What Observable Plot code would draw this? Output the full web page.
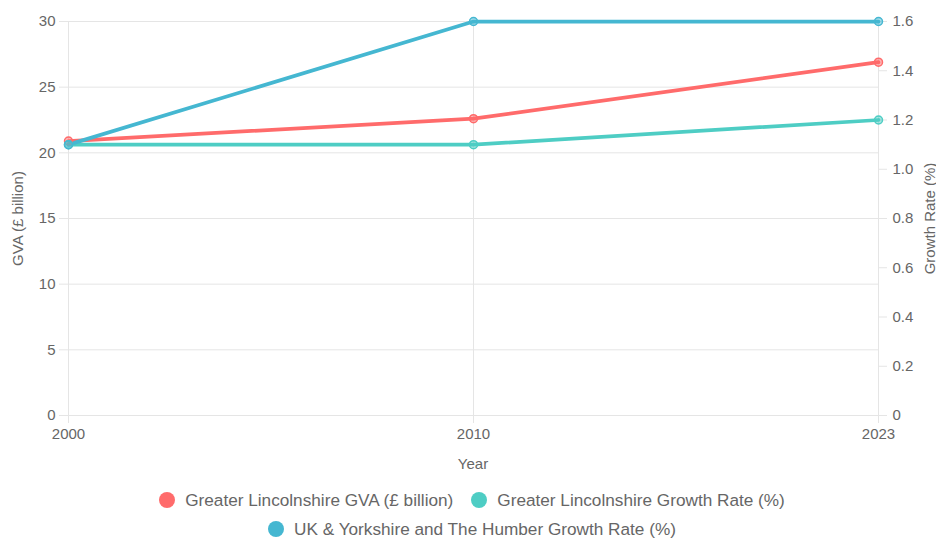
<!DOCTYPE html>
<html><head><meta charset="utf-8">
<script src="https://cdn.jsdelivr.net/npm/d3@7"></script>
<script src="https://cdn.jsdelivr.net/npm/@observablehq/plot@0.6"></script>
<style>
body{margin:0;background:#fff;font-family:"Liberation Sans",Arial,sans-serif;}
#chart svg{display:block;}
#legend{width:640px;margin:0 auto;padding-top:12px;padding-left:8px;display:flex;flex-wrap:wrap;justify-content:center;row-gap:9px;column-gap:18px;font-size:17.2px;color:#666;}
.item{display:flex;align-items:center;height:20px;white-space:nowrap;}
.sw{width:16px;height:16px;border-radius:50%;margin-right:10px;}
</style></head><body>
<div id="chart"></div>
<div id="legend"></div>
<script>
const years = ["2000", "2010", "2023"];
const lincGVA = [20.9, 22.6, 26.9];
const lincGrowth = [1.1, 1.1, 1.2];
const ukGrowth = [1.1, 1.6, 1.6];
const seriesNames = ["Greater Lincolnshire GVA (£ billion)", "Greater Lincolnshire Growth Rate (%)", "UK & Yorkshire and The Humber Growth Rate (%)"];
const seriesColors = ["#FF6B6B", "#4ECDC4", "#45B7D1"];
const leftTicks = [0, 5, 10, 15, 20, 25, 30];
const rightTicks = [0, 0.2, 0.4, 0.6, 0.8, 1.0, 1.2, 1.4, 1.6];
const leftMax = 30, rightMax = 1.6;
const k = leftMax / rightMax;

const data = [];
years.forEach((y, i) => {
  data.push({year: y, v: lincGVA[i], series: seriesNames[0]});
  data.push({year: y, v: lincGrowth[i] * k, series: seriesNames[1]});
  data.push({year: y, v: ukGrowth[i] * k, series: seriesNames[2]});
});

const chart = Plot.plot({
  width: 936, height: 478,
  marginLeft: 67, marginRight: 58, marginTop: 21, marginBottom: 63,
  style: {fontSize: "15px", fontFamily: "'Liberation Sans', Arial, sans-serif", color: "#666", background: "#fff"},
  x: {type: "point", domain: years, padding: 0},
  y: {domain: [0, leftMax]},
  color: {domain: seriesNames, range: seriesColors},
  marks: [
    Plot.gridY(leftTicks, {stroke: "#e5e5e5", strokeOpacity: 1}),
    Plot.gridX(years, {stroke: "#e5e5e5", strokeOpacity: 1}),
    Plot.axisX(years, {tickSize: 8, tickPadding: 5, stroke: "#e5e5e5", fill: "#666", label: "Year", labelAnchor: "center", labelOffset: 53, labelArrow: "none"}),
    Plot.axisY(leftTicks, {anchor: "left", tickSize: 8, tickPadding: 4, stroke: "#e5e5e5", fill: "#666", label: "GVA (£ billion)", labelAnchor: "center", labelOffset: 55, labelArrow: "none"}),
    Plot.axisY(rightTicks.map(t => t * k), {anchor: "right", tickSize: 8, tickPadding: 6, stroke: "#e5e5e5", fill: "#666",
      tickFormat: d => { const v = d / k; return Math.abs(v) < 1e-9 ? "0" : v.toFixed(1); },
      label: "Growth Rate (%)", labelAnchor: "center", labelOffset: 56, labelArrow: "none"}),
    Plot.line(data, {x: "year", y: "v", z: "series", stroke: "series", strokeWidth: 3.75, curve: "linear"}),
    Plot.dot(data, {x: "year", y: "v", r: 4, stroke: "series", fill: "series", fillOpacity: 0.5, strokeWidth: 1.5})
  ]
});
document.getElementById("chart").appendChild(chart);

const legend = d3.select("#legend");
seriesNames.forEach((n, i) => {
  const it = legend.append("div").attr("class", "item");
  it.append("div").attr("class", "sw").style("background", seriesColors[i]);
  it.append("span").text(n);
});
</script>
</body></html>
